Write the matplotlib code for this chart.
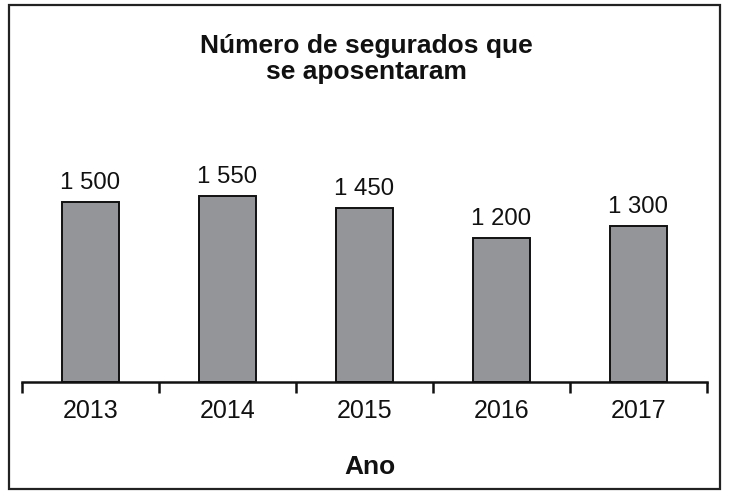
import matplotlib
matplotlib.use("Agg")
import matplotlib.pyplot as plt
from matplotlib.patches import Rectangle
import numpy as np

plt.rcParams['font.family'] = ['Liberation Sans', 'DejaVu Sans']

years = ["2013", "2014", "2015", "2016", "2017"]
values = [1500, 1550, 1450, 1200, 1300]
value_labels = ["1 500", "1 550", "1 450", "1 200", "1 300"]
title = "Número de segurados que\nse aposentaram"
xlabel = "Ano"

W, H = 733, 497
fig = plt.figure(figsize=(W / 100, H / 100), dpi=100)

# outer border
fig.patches.append(Rectangle((9 / W, 1 - 488.5 / H), (720 - 9) / W, (488.5 - 4.5) / H,
                             transform=fig.transFigure, fill=False,
                             edgecolor="#222222", linewidth=1.6))

ax_left, ax_right = 22 / W, 707 / W
ax_bottom = 1 - 382 / H
ax_top = 1 - 145 / H
ax = fig.add_axes([ax_left, ax_bottom, ax_right - ax_left, ax_top - ax_bottom])

x = np.arange(len(years))
ax.bar(x, values, width=0.41, color="#939598", edgecolor="#111111", linewidth=1.4, zorder=2)
for xi, v, lab in zip(x, values, value_labels):
    ax.annotate(lab, (xi, v), xytext=(0, 6), textcoords="offset points",
                ha="center", va="bottom", fontsize=17.3, color="#111111")

ax.set_xlim(-0.5, len(years) - 0.5)
ax.set_ylim(0, 1980)
for s in ["top", "right", "left"]:
    ax.spines[s].set_visible(False)
ax.spines["bottom"].set_linewidth(1.8)
ax.spines["bottom"].set_color("#111111")
ax.set_yticks([])
ax.set_xticks(x)
ax.set_xticklabels(years, fontsize=18, color="#111111")
ax.tick_params(axis="x", which="major", length=0, pad=12.5)
ax.set_xticks(np.arange(-0.5, len(years)), minor=True)
ax.tick_params(axis="x", which="minor", length=8, width=1.8, color="#111111", direction="out")

fig.text(366 / W, 1 - 59 / H, title, ha="center", va="center", fontsize=19,
         fontweight="bold", color="#111111", linespacing=1.15)
fig.text(370 / W, 1 - 467 / H, xlabel, ha="center", va="center", fontsize=19,
         fontweight="bold", color="#111111")

fig.savefig("out.png", dpi=100)
